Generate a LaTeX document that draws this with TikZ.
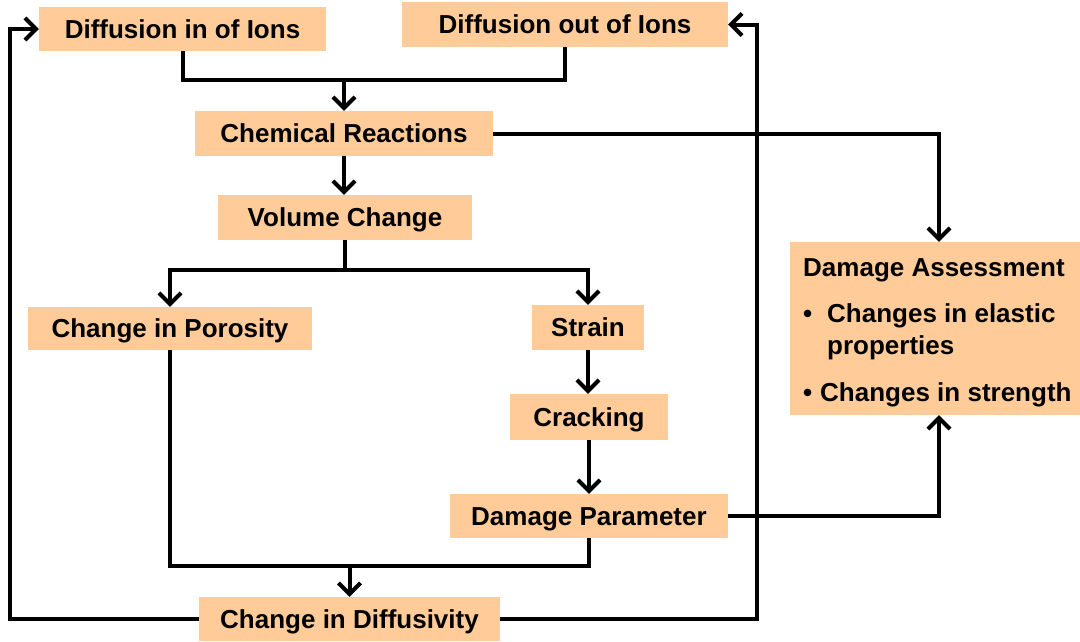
\documentclass[tikz,border=0pt]{standalone}
\usepackage{fontspec}
\setmainfont{Liberation Sans}
\usetikzlibrary{arrows.meta}
\definecolor{boxfill}{RGB}{255,204,153}
\begin{document}
\begin{tikzpicture}[x=1pt,y=-1pt,
  box/.style={fill=boxfill, inner sep=0pt, text height=18.7pt, text depth=0pt,
    font=\fontsize{26}{31}\selectfont\bfseries},
  txt/.style={inner sep=0pt, text height=18.7pt, text depth=0pt, anchor=west,
    font=\fontsize{26}{31}\selectfont\bfseries},
  plain/.style={line width=4pt},
  arr/.style={line width=4pt, -{Straight Barb[length=11pt,width=22pt]}},
  ]
\useasboundingbox (0,0) rectangle (1080,641);
% boxes
\node[box, minimum width=287pt, minimum height=44pt] (din) at (182.5,29) {Diffusion in of Ions};
\node[box, minimum width=326pt, minimum height=45pt] (dout) at (565,24.5) {Diffusion out of Ions};
\node[box, minimum width=298pt, minimum height=45pt] (chem) at (344,133.5) {Chemical Reactions};
\node[box, minimum width=254pt, minimum height=45pt] (vol) at (345,217.5) {Volume Change};
\node[box, minimum width=284pt, minimum height=43pt] (por) at (170,328.5) {Change in Porosity};
\node[box, minimum width=112pt, minimum height=45pt] (strain) at (588,327.5) {Strain};
\node[box, minimum width=158pt, minimum height=46pt] (crack) at (589,417) {Cracking};
\node[box, minimum width=278pt, minimum height=44pt] (dp) at (589,516) {Damage Parameter};
\node[box, minimum width=301pt, minimum height=44pt] (diff) at (349.5,619) {Change in Diffusivity};
\node[box, minimum width=290pt, minimum height=173pt] (da) at (935,328.5) {};
% assessment text
\node[txt] (da1) at (803,267) {Damage Assessment};
\node[txt] (da2b) at (803,313) {\textbullet};
\node[txt] (da2) at (827,313) {Changes in elastic};
\node[txt] (da3) at (827,345) {properties};
\node[txt] (da4b) at (803,392) {\textbullet};
\node[txt] (da4) at (820,392) {Changes in strength};
% junctions
\coordinate (j1) at (344,80);
\coordinate (j2) at (345,270);
\coordinate (j3) at (349.5,566);
\coordinate (lc) at (10,0);
\coordinate (rc) at (757,0);
% connectors
\draw[plain] (din.south) |- (j1);
\draw[plain] (dout.south) |- (j1);
\draw[arr] (j1) -- (chem.north);
\draw[arr] (chem.south) -- (chem.south |- vol.north);
\draw[plain] (vol.south) -- (j2);
\draw[arr] (j2) -| (por.north);
\draw[arr] (j2) -| (strain.north);
\draw[arr] (strain.south) -- (strain.south |- crack.north);
\draw[arr] (crack.south) -- (crack.south |- dp.north);
\draw[plain] (por.south) |- (j3);
\draw[plain] (dp.south) |- (j3);
\draw[arr] (j3) -- (diff.north);
\draw[arr] (diff.west) -| (lc |- din.west) -- (din.west);
\draw[arr] (diff.east) -| (rc |- dout.east) -- (dout.east);
\draw[arr] (chem.east) -| ([xshift=4pt]da.north);
\draw[arr] (dp.east) -| ([xshift=4pt]da.south);
\end{tikzpicture}
\end{document}
